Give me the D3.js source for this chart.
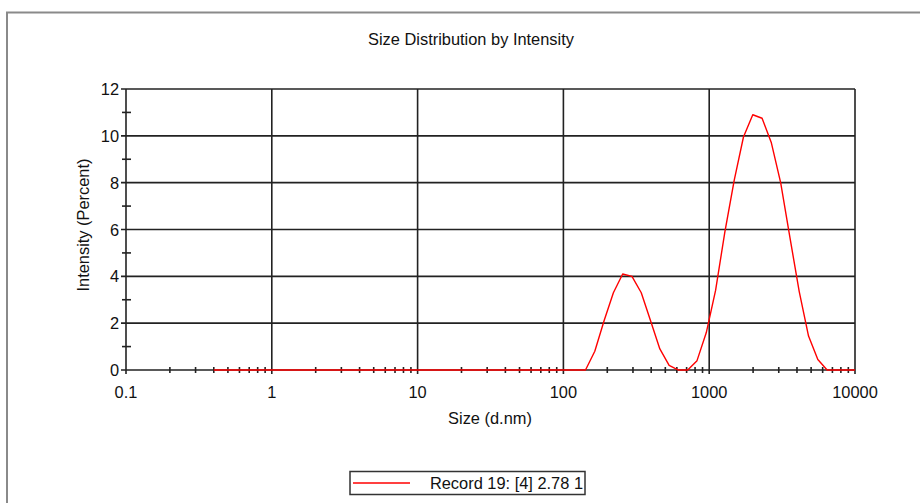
<!DOCTYPE html>
<html>
<head>
<meta charset="utf-8">
<script src="https://cdn.jsdelivr.net/npm/d3@7"></script>
<style>
    body { margin: 0; background: #fff; }
    text { font-family: "Liberation Sans", Arial, sans-serif; fill: #111; font-size: 16.4px; }
</style>
</head>
<body>
<svg id="size-chart" width="920" height="503"></svg>
<script>
// Zetasizer size classes (d.nm)
const sizes = [
    0.4, 0.4632, 0.5365, 0.6213, 0.7195, 0.8332, 0.9649, 1.117, 1.294, 1.499,
    1.736, 2.010, 2.328, 2.696, 3.122, 3.615, 4.187, 4.849, 5.615, 6.503,
    7.531, 8.721, 10.10, 11.70, 13.54, 15.69, 18.17, 21.04, 24.36, 28.21,
    32.67, 37.84, 43.82, 50.75, 58.77, 68.06, 78.82, 91.28, 105.7, 122.4,
    141.8, 164.2, 190.1, 220.2, 255.0, 295.3, 342.0, 396.1, 458.7, 531.2,
    615.1, 712.4, 825.0, 955.4, 1106, 1281, 1484, 1718, 1990, 2305,
    2669, 3091, 3580, 4145, 4801, 5560, 6439, 7456, 8635, 10000
];

// Intensity (percent), Record 19
const intensity = [
    0, 0, 0, 0, 0, 0, 0, 0, 0, 0,
    0, 0, 0, 0, 0, 0, 0, 0, 0, 0,
    0, 0, 0, 0, 0, 0, 0, 0, 0, 0,
    0, 0, 0, 0, 0, 0, 0, 0, 0, 0,
    0, 0.8, 2.1, 3.3, 4.1, 4.0, 3.3, 2.1, 0.9, 0.2,
    0, 0, 0.4, 1.6, 3.4, 5.9, 8.1, 9.95, 10.9, 10.75,
    9.7, 8.0, 5.65, 3.35, 1.45, 0.45, 0, 0, 0, 0
];

const xTicks = [0.1, 1, 10, 100, 1000, 10000];
const xTickLabels = ["0.1", "1", "10", "100", "1000", "10000"];
const yTicks = [0, 2, 4, 6, 8, 10, 12];
const yMinorTicks = [1, 3, 5, 7, 9, 11];

const title = "Size Distribution by Intensity";
const xTitle = "Size (d.nm)";
const yTitle = "Intensity (Percent)";
const legendLabel = "Record 19: [4] 2.78 1";

const svg = d3.select("#size-chart");

const x = d3.scaleLog().domain([0.1, 10000]).range([126, 855]);
const y = d3.scaleLinear().domain([0, 12]).range([370, 89]);

const gridColor = "#222";

// outer frame (only top and left visible)
svg.append("path")
    .attr("d", "M7,503 V12.5 H920")
    .attr("fill", "none")
    .attr("stroke", "#8a8a8a")
    .attr("stroke-width", 2);

svg.append("text")
    .attr("x", 471).attr("y", 45)
    .attr("text-anchor", "middle")
    .text(title);

// minor x ticks: 2..9 in each decade
let minorX = [];
for (let d = 0; d < 5; d++) {
    for (let m = 2; m <= 9; m++) minorX.push(xTicks[d] * m);
}

const grid = svg.append("g").attr("stroke", gridColor).attr("stroke-width", 1.6);

grid.selectAll(".hgrid")
    .data(yTicks)
    .enter().append("line")
    .attr("x1", x(0.1) - 5).attr("x2", x(10000))
    .attr("y1", d => y(d)).attr("y2", d => y(d));

grid.selectAll(".vgrid")
    .data(xTicks)
    .enter().append("line")
    .attr("x1", d => x(d)).attr("x2", d => x(d))
    .attr("y1", y(12)).attr("y2", y(0) + 4);

grid.selectAll(".yminor")
    .data(yMinorTicks)
    .enter().append("line")
    .attr("x1", x(0.1) - 4).attr("x2", x(0.1) + 5)
    .attr("y1", d => y(d)).attr("y2", d => y(d));

grid.selectAll(".xminor")
    .data(minorX)
    .enter().append("line")
    .attr("x1", d => x(d)).attr("x2", d => x(d))
    .attr("y1", y(0) - 3).attr("y2", y(0) + 3);

// tick labels
svg.selectAll(".xlabel")
    .data(xTicks)
    .enter().append("text")
    .attr("x", d => x(d)).attr("y", 398)
    .attr("text-anchor", "middle")
    .text((d, i) => xTickLabels[i]);

svg.selectAll(".ylabel")
    .data(yTicks)
    .enter().append("text")
    .attr("x", 119).attr("y", d => y(d) + 6)
    .attr("text-anchor", "end")
    .text(d => d);

svg.append("text")
    .attr("x", 490).attr("y", 424)
    .attr("text-anchor", "middle")
    .text(xTitle);

svg.append("text")
    .attr("transform", "translate(89,225) rotate(-90)")
    .attr("text-anchor", "middle")
    .text(yTitle);

// distribution line
const line = d3.line()
    .x(d => x(d[0]))
    .y(d => y(d[1]));

svg.append("path")
    .datum(sizes.map((s, i) => [s, intensity[i]]))
    .attr("fill", "none")
    .attr("stroke", "#ff0000")
    .attr("stroke-width", 1.4)
    .attr("stroke-linejoin", "round")
    .attr("d", line);

// legend
const legend = svg.append("g");
legend.append("rect")
    .attr("x", 350).attr("y", 471.5)
    .attr("width", 235).attr("height", 23)
    .attr("fill", "#fff")
    .attr("stroke", "#333")
    .attr("stroke-width", 1.5);
legend.append("line")
    .attr("x1", 353).attr("x2", 410)
    .attr("y1", 483).attr("y2", 483)
    .attr("stroke", "#ff0000")
    .attr("stroke-width", 1.4);
legend.append("text")
    .attr("x", 583).attr("y", 489)
    .attr("text-anchor", "end")
    .text(legendLabel);
</script>
</body>
</html>
